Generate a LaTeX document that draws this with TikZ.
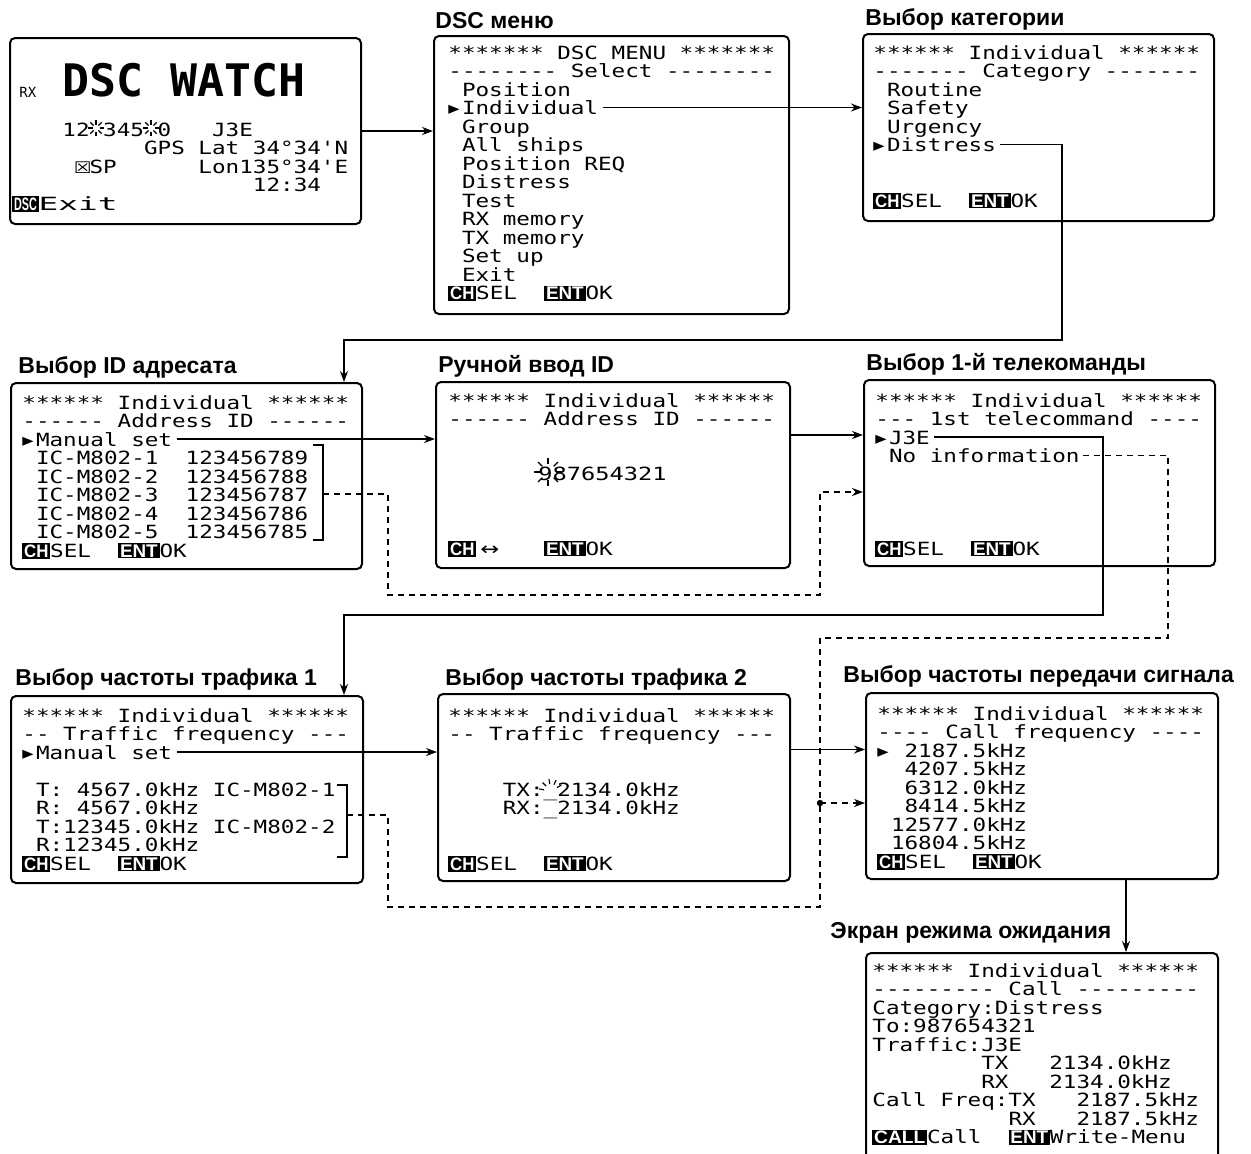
\documentclass[tikz,border=0pt]{standalone}
\usepackage{fontspec}
\usepackage{graphicx}
\usetikzlibrary{arrows.meta,calc}
\newfontfamily\lcd{DejaVu Sans Mono}[Ligatures=TeXOff]
\newfontfamily\symf{DejaVu Sans}
\newfontfamily\ttlf{Liberation Sans}
\newfontfamily\keyf{Liberation Sans}
\newlength\cw \setlength\cw{5.478pt}
\newcommand\cur{\makebox[\cw][l]{\symf ▸}}
\newcommand\keyb[2]{{\setlength\fboxsep{0.7pt}\colorbox{black}{\textcolor{white}{\resizebox{#1}{6.3pt}{\keyf\bfseries #2}}}}}
\newcommand\kCH{\keyb{9.8pt}{CH}}
\newcommand\kENT{\keyb{15.2pt}{ENT}}
\newcommand\keysel{\kCH SEL~~\kENT OK}
\newcommand\lcdrows[4]{\foreach \ri/\rt in {#4}{\node[lcdtxt] (#1\ri) at ({#2},{#3+18.5*\ri+7}) {\scalebox{1.242}[1]{\rt}};}}
\newcommand\lcdbox[5]{\node[lcdframe, minimum width={(#4-#2)*0.5pt}, minimum height={(#5-#3)*0.5pt}] (#1) at (#2,#3) {};}
\newcommand\blink[4]{\foreach \ra in {#2}{\draw[raysty] ($(#1)+(\ra:#3)$) -- ($(#1)+(\ra:#4)$);}}
\tikzset{
  lcdframe/.style={draw, line width=1pt, rounded corners=2.5pt, inner sep=0pt, anchor=north west},
  lcdtxt/.style={anchor=base west, inner sep=0pt, font=\lcd\fontsize{9.1}{10}\selectfont},
  ttl/.style={anchor=base west, inner sep=0pt, font=\ttlf\bfseries\fontsize{11.5}{13}\selectfont},
  conn/.style={line width=0.8pt},
  arr/.style={conn, -{Stealth[length=5.5pt,width=4pt]}},
  dsh/.style={conn, dash pattern=on 3pt off 2.5pt},
  darr/.style={dsh, -{Stealth[length=5.5pt,width=4pt]}},
  raysty/.style={line width=0.55pt},
  brk/.style={line width=0.6pt},
}
\begin{document}
\begin{tikzpicture}[x=0.5pt,y=-0.5pt]
\useasboundingbox (0,0) rectangle (1251,1153);
\clip (0,0) rectangle (1251,1153);

% ---------- boxes ----------
\lcdbox{watch}{9}{37}{360}{223}
\lcdbox{menu}{433}{35}{788}{313}
\lcdbox{cat}{862}{33}{1213}{220}
\lcdbox{idsel}{10}{382}{361}{568}
\lcdbox{manual}{435}{381}{789}{567}
\lcdbox{tele}{863}{379}{1214}{565}
\lcdbox{traf1}{10}{695}{362}{882}
\lcdbox{traf2}{437}{693}{789}{880}
\lcdbox{callf}{865}{692}{1217}{878}
\lcdbox{stand}{865}{952}{1217}{1170}

% ---------- titles ----------
\node[ttl] (tmenu) at (435,28) {DSC меню};
\node[ttl] (tcat) at (865,25) {Выбор категории};
\node[ttl] (tid) at (18,373) {Выбор ID адресата};
\node[ttl] (tman) at (438,372) {Ручной ввод ID};
\node[ttl] (ttele) at (866,370) {Выбор 1-й телекоманды};
\node[ttl] (ttr1) at (15,685) {Выбор частоты трафика 1};
\node[ttl] (ttr2) at (445,685) {Выбор частоты трафика 2};
\node[ttl] (tcf) at (843,682) {Выбор частоты передачи сигнала};
\node[ttl] (tsb) at (830,938) {Экран режима ожидания};

% ---------- DSC watch ----------
\node[anchor=base west, inner sep=0pt, font=\lcd\fontsize{7}{8}\selectfont] (wrx) at (19,97) {RX};
\node[anchor=base west, inner sep=0pt, font=\lcd\bfseries\fontsize{22.4}{24}\selectfont] (wbig) at (62,96.5) {DSC~WATCH};
\lcdrows{w}{62}{129}{0/{12~345~0~~~J3E}, 1/{~~~~~~GPS~Lat~34°34'N}, 2/{~\makebox[\cw]{\symf\footnotesize ☒}SP~~~~~~Lon135°34'E}, 3/{~~~~~~~~~~~~~~12:34}}
\node[lcdtxt] (wexit) at (12,210) {\scalebox{1.242}[1]{\keyb{9.2pt}{DSC}\scalebox{1.45}[1]{Exit}}};
\blink{96,128}{0,45,...,315}{3.5}{8}
\blink{151,128}{0,45,...,315}{3.5}{8}

% ---------- DSC menu ----------
\lcdrows{mn}{448}{52}{0/{*******~DSC~MENU~*******}, 1/{--------~Select~--------}, 2/{~Position}, 3/{\cur Individual}, 4/{~Group}, 5/{~All~ships}, 6/{~Position~REQ}, 7/{~Distress}, 8/{~Test}, 9/{~RX~memory}, 10/{~TX~memory}, 11/{~Set~up}, 12/{~Exit}, 13/{\keysel}}

% ---------- category ----------
\lcdrows{ct}{873}{52}{0/{******~Individual~******}, 1/{-------~Category~-------}, 2/{~Routine}, 3/{~Safety}, 4/{~Urgency}, 5/{\cur Distress}, 8/{\keysel}}

% ---------- address ID ----------
\lcdrows{id}{22}{402}{0/{******~Individual~******}, 1/{------~Address~ID~------}, 2/{\cur Manual~set}, 3/{~IC-M802-1~~123456789}, 4/{~IC-M802-2~~123456788}, 5/{~IC-M802-3~~123456787}, 6/{~IC-M802-4~~123456786}, 7/{~IC-M802-5~~123456785}, 8/{\keysel}}
\draw[brk] (313,445) -- (323,445) -- (323,540) -- (313,540);

% ---------- manual ID ----------
\lcdrows{mi}{448}{400}{0/{******~Individual~******}, 1/{------~Address~ID~------}, 8/{\kCH\makebox[2\cw]{\symf ↔}~~~\kENT OK}}
\node[lcdtxt] (midig) at (538,480) {\scalebox{1.3}[1]{987654321}};
\blink{548,472}{0,45,...,315}{8}{14}

% ---------- 1st telecommand ----------
\lcdrows{te}{875}{400}{0/{******~Individual~******}, 1/{---~1st~telecommand~----}, 2/{\cur J3E}, 3/{~No~information}, 8/{\keysel}}

% ---------- traffic 1 ----------
\lcdrows{ta}{22}{715}{0/{******~Individual~******}, 1/{--~Traffic~frequency~---}, 2/{\cur Manual~set}, 4/{~T:~4567.0kHz~IC-M802-1}, 5/{~R:~4567.0kHz}, 6/{~T:12345.0kHz~IC-M802-2}, 7/{~R:12345.0kHz}, 8/{\keysel}}
\draw[brk] (337,785) -- (347,785) -- (347,857) -- (337,857);

% ---------- traffic 2 ----------
\lcdrows{tb}{448}{715}{0/{******~Individual~******}, 1/{--~Traffic~frequency~---}, 4/{~~~~TX:\_2134.0kHz}, 5/{~~~~RX:\_2134.0kHz}, 8/{\keysel}}
\blink{551,791}{190,225,...,350}{7}{12}

% ---------- call frequency ----------
\lcdrows{cf}{877}{713}{0/{******~Individual~******}, 1/{----~Call~frequency~----}, 2/{\cur~2187.5kHz}, 3/{~~4207.5kHz}, 4/{~~6312.0kHz}, 5/{~~8414.5kHz}, 6/{~12577.0kHz}, 7/{~16804.5kHz}, 8/{\keysel}}

% ---------- standby ----------
\lcdrows{sb}{872}{970}{0/{******~Individual~******}, 1/{---------~Call~---------}, 2/{Category:Distress}, 3/{To:987654321}, 4/{Traffic:J3E}, 5/{~~~~~~~~TX~~~2134.0kHz}, 6/{~~~~~~~~RX~~~2134.0kHz}, 7/{Call~Freq:TX~~~2187.5kHz}, 8/{~~~~~~~~~~RX~~~2187.5kHz}, 9/{\keyb{20.6pt}{CALL}Call~~\kENT Write-Menu}}

% ---------- connectors ----------
\draw[arr] (watch.east) -- (watch.east -| menu.west);

\coordinate (a1) at ($(mn3.base east)+(4,-7)$);
\draw[arr] (a1) -- (a1 -| cat.west);

\coordinate (c1) at ($(ct5.base east)+(4,-7)$);
\coordinate (k1) at (344,340);
\draw[arr] (c1) -| (1062,340) -- (k1) -- (k1 |- idsel.north);

\coordinate (m1) at ($(id2.base east)+(4,-7)$);
\draw[arr] (m1) -- (m1 -| manual.west);

\coordinate (b1) at (323,494);
\coordinate (b2) at (820,492);
\draw[darr] (b1) -- (388,494) -- (388,595) -- (820,595) -- (b2) -- (b2 -| tele.west);

\path (manual.east) ++(0,-40) coordinate (m2);
\draw[arr] (m2) -- (m2 -| tele.west);

\coordinate (j1) at ($(te2.base east)+(4,-7)$);
\coordinate (k2) at (344,615);
\draw[arr] (j1) -| (1103,615) -- (k2) -- (k2 |- traf1.north);

\coordinate (n1) at ($(te3.base east)+(3,-7)$);
\coordinate (jn) at (820,803);
\draw[darr] (n1) -| (1168,638) -- (820,638) -- (jn) -- (jn -| callf.west);
\draw[dsh] (347,815) -- (388,815) -- (388,907) -| (jn);
\fill (jn) circle[radius=1.6pt];

\coordinate (t1) at ($(ta2.base east)+(4,-7)$);
\draw[arr] (t1) -- (t1 -| traf2.west);

\path (traf2.east) ++(0,-38) coordinate (t2);
\draw[arr] (t2) -- (t2 -| callf.west);

\path (callf.south) ++(84,0) coordinate (s1);
\draw[arr] (s1) -- (s1 |- stand.north);
\end{tikzpicture}
\end{document}
